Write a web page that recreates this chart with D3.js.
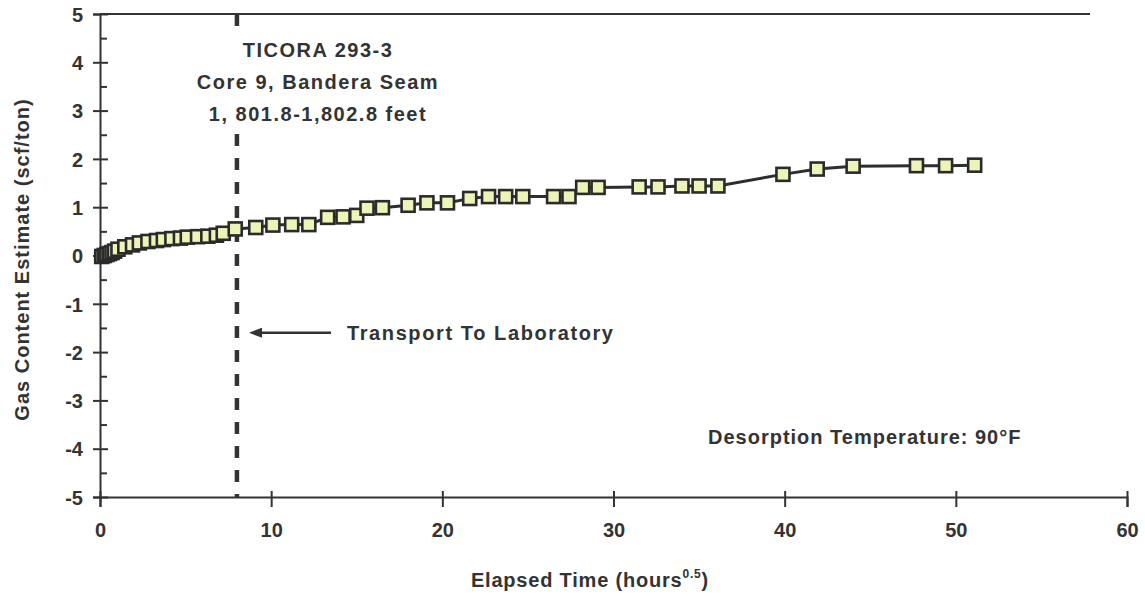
<!DOCTYPE html>
<html>
<head>
<meta charset="utf-8">
<script src="https://cdn.jsdelivr.net/npm/d3@7"></script>
<style>
  html, body { margin: 0; padding: 0; background: #ffffff; }
  svg { display: block; }
  text { font-family: "Liberation Sans", Arial, Helvetica, sans-serif; font-weight: bold; fill: #333; }
</style>
</head>
<body>
<svg id="chart" width="1145" height="596"></svg>
<script>
// ---- Data (elapsed time in hours^0.5, gas content in scf/ton) ----
const timeSqrtHr = [0.1, 0.25, 0.4, 0.55, 0.7, 0.85, 1.05, 1.45, 1.9, 2.3, 2.8, 3.3, 3.7, 4.2, 4.7, 5.1, 5.7, 6.3, 6.8, 7.2,
  7.9, 9.1, 10.1, 11.2, 12.2, 13.3, 14.2, 15.0, 15.6, 16.5, 18.0, 19.1, 20.3, 21.6, 22.7, 23.7, 24.7, 26.5, 27.4,
  28.2, 29.1, 31.5, 32.6, 34.0, 35.0, 36.1, 39.9, 41.9, 44.0, 47.7, 49.4, 51.1];
const gasContent = [-0.02, 0.0, 0.02, 0.04, 0.06, 0.09, 0.13, 0.18, 0.22, 0.26, 0.29, 0.31, 0.33, 0.35, 0.36, 0.38, 0.39, 0.40, 0.42, 0.46,
  0.55, 0.58, 0.63, 0.64, 0.64, 0.79, 0.80, 0.83, 0.98, 0.99, 1.04, 1.09, 1.09, 1.18, 1.22, 1.22, 1.22, 1.22, 1.22,
  1.41, 1.41, 1.42, 1.42, 1.44, 1.44, 1.44, 1.68, 1.79, 1.85, 1.86, 1.86, 1.87];
const xTicks = [0, 10, 20, 30, 40, 50, 60];
const yTicks = [-5, -4, -3, -2, -1, 0, 1, 2, 3, 4, 5];
const yMinorTicks = [-4.5, -3.5, -2.5, -1.5, -0.5, 0.5, 1.5, 2.5, 3.5, 4.5];
const transportTime = 8;
const annotationLines = ["TICORA 293-3", "Core 9, Bandera Seam", "1, 801.8-1,802.8 feet"];
const transportLabel = "Transport To Laboratory";
const tempLabel = "Desorption Temperature: 90\u00B0F";
const yTitle = "Gas Content Estimate (scf/ton)";

const data = timeSqrtHr.map((t, i) => ({ t, g: gasContent[i] }));

const svg = d3.select("#chart");
const ink = "#333";

const x = d3.scaleLinear().domain([0, 60]).range([100, 1127]);
const y = d3.scaleLinear().domain([-5, 5]).range([497, 14]);

// top border
svg.append("line")
  .attr("x1", x(0)).attr("x2", 1090)
  .attr("y1", y(5)).attr("y2", y(5))
  .attr("stroke", ink).attr("stroke-width", 2);

// Y axis (major)
const yAxis = svg.append("g").attr("transform", `translate(${x(0)},0)`)
  .call(d3.axisLeft(y).tickValues(yTicks).tickSize(7).tickFormat(d3.format("d")));
yAxis.select(".domain").attr("stroke", ink).attr("stroke-width", 2);
yAxis.selectAll(".tick line").attr("stroke", ink).attr("stroke-width", 2).attr("x1", 8).attr("x2", -7);
yAxis.selectAll(".tick text").attr("x", -17).attr("dy", "0.36em")
  .style("font-size", "20px").style("font-family", "Liberation Sans, Arial, sans-serif")
  .style("font-weight", "bold").attr("fill", ink)
  .text(d => d < 0 ? "-" + Math.abs(d) : d);

// Y axis (minor)
const yMinor = svg.append("g").attr("transform", `translate(${x(0)},0)`)
  .call(d3.axisLeft(y).tickValues(yMinorTicks).tickSize(-7).tickFormat(""));
yMinor.select(".domain").remove();
yMinor.selectAll(".tick line").attr("stroke", ink).attr("stroke-width", 2);

// X axis
const xAxis = svg.append("g").attr("transform", `translate(0,${y(-5)})`)
  .call(d3.axisBottom(x).tickValues(xTicks).tickSize(10).tickFormat(d3.format("d")));
xAxis.select(".domain").attr("stroke", ink).attr("stroke-width", 2);
xAxis.selectAll(".tick line").attr("stroke", ink).attr("stroke-width", 2).attr("y1", -6).attr("y2", 10);
xAxis.selectAll(".tick text").attr("y", 40).attr("dy", 0)
  .style("font-size", "20px").style("font-family", "Liberation Sans, Arial, sans-serif")
  .style("font-weight", "bold").attr("fill", ink);

// Axis titles
svg.append("text")
  .attr("transform", `translate(29,${(y(5) + y(-5)) / 2 + 4}) rotate(-90)`)
  .attr("text-anchor", "middle")
  .style("font-size", "20px").style("letter-spacing", "1px")
  .text(yTitle);

const xt = svg.append("text")
  .attr("x", 590).attr("y", 587)
  .attr("text-anchor", "middle")
  .style("font-size", "20px").style("letter-spacing", "0.8px");
xt.append("tspan").text("Elapsed Time (hours");
xt.append("tspan").attr("dy", -9).style("font-size", "12px").text("0.5");
xt.append("tspan").attr("dy", 9).text(")");

// Vertical dashed line at transport time
svg.append("line")
  .attr("x1", x(transportTime)).attr("x2", x(transportTime))
  .attr("y1", y(5)).attr("y2", y(-5))
  .attr("stroke", ink).attr("stroke-width", 4.5)
  .attr("stroke-dasharray", "12,12");

// Series line
svg.append("path").datum(data)
  .attr("fill", "none").attr("stroke", "#2e2e2e").attr("stroke-width", 3)
  .attr("d", d3.line().x(d => x(d.t)).y(d => y(d.g)));

// Markers
const ms = 13;
svg.append("g").selectAll("rect").data(data).join("rect")
  .attr("x", d => x(d.t) - ms / 2).attr("y", d => y(d.g) - ms / 2)
  .attr("width", ms).attr("height", ms)
  .attr("fill", "#eef4b8").attr("stroke", "#2b2b2b").attr("stroke-width", 2.6);

// Annotations (white box hides the dashed line behind the text block)
svg.append("rect")
  .attr("x", 188).attr("y", 33).attr("width", 262).attr("height", 100)
  .attr("fill", "#ffffff");
annotationLines.forEach((s, i) => {
  svg.append("text")
    .attr("x", 318).attr("y", 57 + i * 32)
    .attr("text-anchor", "middle")
    .style("font-size", "20px").style("letter-spacing", "1.5px")
    .text(s);
});

// Arrow
const arrowY = y(-1.6);
svg.append("line")
  .attr("x1", 331).attr("x2", 258)
  .attr("y1", arrowY).attr("y2", arrowY)
  .attr("stroke", ink).attr("stroke-width", 2.5);
svg.append("path")
  .attr("d", `M249,${arrowY} L262,${arrowY - 5} L262,${arrowY + 5} Z`)
  .attr("fill", ink);
svg.append("text")
  .attr("x", 347).attr("y", arrowY + 7)
  .style("font-size", "20px").style("letter-spacing", "1.6px")
  .text(transportLabel);

svg.append("text")
  .attr("x", 708).attr("y", y(-3.75) + 7)
  .style("font-size", "20px").style("letter-spacing", "1px")
  .text(tempLabel);
</script>
</body>
</html>
